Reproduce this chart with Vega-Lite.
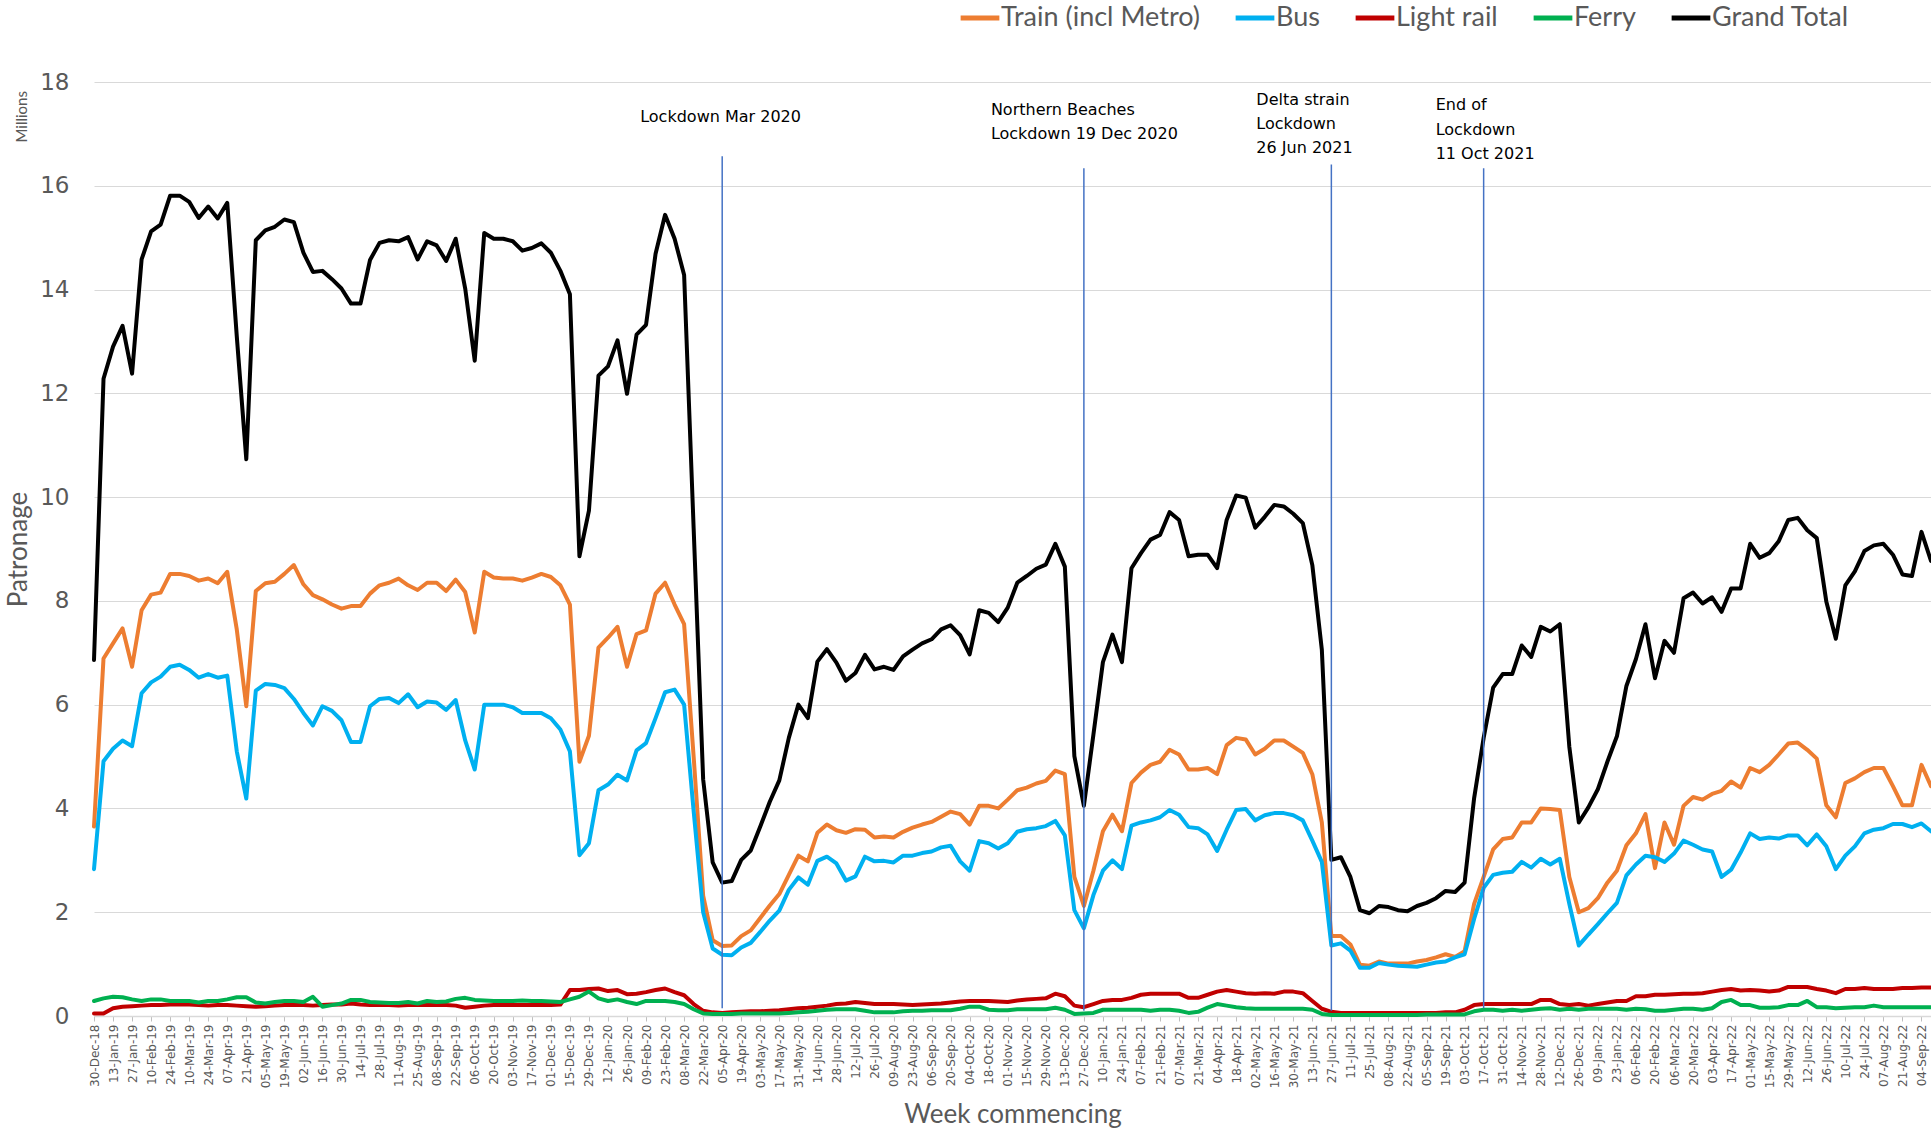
{
"$schema": "https://vega.github.io/schema/vega-lite/v6.json",
"width": 1837, "height": 934,
"autosize": {"type": "none"},
"padding": {"left": 94, "top": 82, "right": 0, "bottom": 115},
"background": "white",
"config": {"view": {"stroke": null}, "font": "Lato"},
"datasets": {"weekly": [
{"Week":"30-Dec-18","Train (incl Metro)":3.65,"Bus":2.83,"Light rail":0.05,"Ferry":0.29,"Grand Total":6.86},
{"Week":"06-Jan-19","Train (incl Metro)":6.89,"Bus":4.91,"Light rail":0.05,"Ferry":0.34,"Grand Total":12.28},
{"Week":"13-Jan-19","Train (incl Metro)":7.18,"Bus":5.15,"Light rail":0.15,"Ferry":0.37,"Grand Total":12.9},
{"Week":"20-Jan-19","Train (incl Metro)":7.47,"Bus":5.31,"Light rail":0.18,"Ferry":0.36,"Grand Total":13.3},
{"Week":"27-Jan-19","Train (incl Metro)":6.73,"Bus":5.2,"Light rail":0.19,"Ferry":0.32,"Grand Total":12.38},
{"Week":"03-Feb-19","Train (incl Metro)":7.82,"Bus":6.22,"Light rail":0.2,"Ferry":0.29,"Grand Total":14.58},
{"Week":"10-Feb-19","Train (incl Metro)":8.12,"Bus":6.43,"Light rail":0.21,"Ferry":0.32,"Grand Total":15.12},
{"Week":"17-Feb-19","Train (incl Metro)":8.16,"Bus":6.54,"Light rail":0.21,"Ferry":0.32,"Grand Total":15.25},
{"Week":"24-Feb-19","Train (incl Metro)":8.52,"Bus":6.73,"Light rail":0.22,"Ferry":0.29,"Grand Total":15.81},
{"Week":"03-Mar-19","Train (incl Metro)":8.52,"Bus":6.77,"Light rail":0.22,"Ferry":0.29,"Grand Total":15.81},
{"Week":"10-Mar-19","Train (incl Metro)":8.48,"Bus":6.67,"Light rail":0.22,"Ferry":0.29,"Grand Total":15.69},
{"Week":"17-Mar-19","Train (incl Metro)":8.39,"Bus":6.52,"Light rail":0.21,"Ferry":0.26,"Grand Total":15.38},
{"Week":"24-Mar-19","Train (incl Metro)":8.43,"Bus":6.59,"Light rail":0.2,"Ferry":0.29,"Grand Total":15.6},
{"Week":"31-Mar-19","Train (incl Metro)":8.34,"Bus":6.52,"Light rail":0.21,"Ferry":0.29,"Grand Total":15.37},
{"Week":"07-Apr-19","Train (incl Metro)":8.56,"Bus":6.56,"Light rail":0.21,"Ferry":0.32,"Grand Total":15.67},
{"Week":"14-Apr-19","Train (incl Metro)":7.45,"Bus":5.1,"Light rail":0.2,"Ferry":0.36,"Grand Total":13.1},
{"Week":"21-Apr-19","Train (incl Metro)":5.97,"Bus":4.19,"Light rail":0.19,"Ferry":0.36,"Grand Total":10.73},
{"Week":"28-Apr-19","Train (incl Metro)":8.19,"Bus":6.27,"Light rail":0.18,"Ferry":0.26,"Grand Total":14.95},
{"Week":"05-May-19","Train (incl Metro)":8.34,"Bus":6.4,"Light rail":0.19,"Ferry":0.24,"Grand Total":15.14},
{"Week":"12-May-19","Train (incl Metro)":8.37,"Bus":6.38,"Light rail":0.2,"Ferry":0.27,"Grand Total":15.21},
{"Week":"19-May-19","Train (incl Metro)":8.52,"Bus":6.32,"Light rail":0.21,"Ferry":0.29,"Grand Total":15.35},
{"Week":"26-May-19","Train (incl Metro)":8.69,"Bus":6.11,"Light rail":0.21,"Ferry":0.29,"Grand Total":15.3},
{"Week":"02-Jun-19","Train (incl Metro)":8.32,"Bus":5.84,"Light rail":0.21,"Ferry":0.27,"Grand Total":14.71},
{"Week":"09-Jun-19","Train (incl Metro)":8.11,"Bus":5.6,"Light rail":0.2,"Ferry":0.37,"Grand Total":14.34},
{"Week":"16-Jun-19","Train (incl Metro)":8.03,"Bus":5.97,"Light rail":0.21,"Ferry":0.18,"Grand Total":14.36},
{"Week":"23-Jun-19","Train (incl Metro)":7.93,"Bus":5.88,"Light rail":0.22,"Ferry":0.21,"Grand Total":14.2},
{"Week":"30-Jun-19","Train (incl Metro)":7.85,"Bus":5.7,"Light rail":0.22,"Ferry":0.24,"Grand Total":14.02},
{"Week":"07-Jul-19","Train (incl Metro)":7.9,"Bus":5.28,"Light rail":0.24,"Ferry":0.31,"Grand Total":13.73},
{"Week":"14-Jul-19","Train (incl Metro)":7.9,"Bus":5.28,"Light rail":0.22,"Ferry":0.31,"Grand Total":13.73},
{"Week":"21-Jul-19","Train (incl Metro)":8.14,"Bus":5.97,"Light rail":0.21,"Ferry":0.27,"Grand Total":14.57},
{"Week":"28-Jul-19","Train (incl Metro)":8.3,"Bus":6.11,"Light rail":0.21,"Ferry":0.26,"Grand Total":14.9},
{"Week":"04-Aug-19","Train (incl Metro)":8.35,"Bus":6.13,"Light rail":0.21,"Ferry":0.25,"Grand Total":14.95},
{"Week":"11-Aug-19","Train (incl Metro)":8.43,"Bus":6.03,"Light rail":0.2,"Ferry":0.25,"Grand Total":14.93},
{"Week":"18-Aug-19","Train (incl Metro)":8.3,"Bus":6.2,"Light rail":0.21,"Ferry":0.27,"Grand Total":15.01},
{"Week":"25-Aug-19","Train (incl Metro)":8.21,"Bus":5.95,"Light rail":0.21,"Ferry":0.24,"Grand Total":14.58},
{"Week":"01-Sep-19","Train (incl Metro)":8.35,"Bus":6.06,"Light rail":0.21,"Ferry":0.29,"Grand Total":14.93},
{"Week":"08-Sep-19","Train (incl Metro)":8.35,"Bus":6.04,"Light rail":0.21,"Ferry":0.27,"Grand Total":14.85},
{"Week":"15-Sep-19","Train (incl Metro)":8.19,"Bus":5.9,"Light rail":0.21,"Ferry":0.28,"Grand Total":14.55},
{"Week":"22-Sep-19","Train (incl Metro)":8.41,"Bus":6.09,"Light rail":0.2,"Ferry":0.33,"Grand Total":14.98},
{"Week":"29-Sep-19","Train (incl Metro)":8.17,"Bus":5.31,"Light rail":0.16,"Ferry":0.35,"Grand Total":14.02},
{"Week":"06-Oct-19","Train (incl Metro)":7.39,"Bus":4.75,"Light rail":0.18,"Ferry":0.31,"Grand Total":12.63},
{"Week":"13-Oct-19","Train (incl Metro)":8.56,"Bus":6.0,"Light rail":0.2,"Ferry":0.3,"Grand Total":15.09},
{"Week":"20-Oct-19","Train (incl Metro)":8.45,"Bus":6.0,"Light rail":0.21,"Ferry":0.29,"Grand Total":14.98},
{"Week":"27-Oct-19","Train (incl Metro)":8.43,"Bus":6.0,"Light rail":0.21,"Ferry":0.29,"Grand Total":14.98},
{"Week":"03-Nov-19","Train (incl Metro)":8.43,"Bus":5.95,"Light rail":0.21,"Ferry":0.29,"Grand Total":14.93},
{"Week":"10-Nov-19","Train (incl Metro)":8.39,"Bus":5.84,"Light rail":0.21,"Ferry":0.3,"Grand Total":14.75},
{"Week":"17-Nov-19","Train (incl Metro)":8.45,"Bus":5.84,"Light rail":0.21,"Ferry":0.29,"Grand Total":14.8},
{"Week":"24-Nov-19","Train (incl Metro)":8.52,"Bus":5.84,"Light rail":0.21,"Ferry":0.29,"Grand Total":14.89},
{"Week":"01-Dec-19","Train (incl Metro)":8.46,"Bus":5.74,"Light rail":0.21,"Ferry":0.28,"Grand Total":14.71},
{"Week":"08-Dec-19","Train (incl Metro)":8.3,"Bus":5.52,"Light rail":0.22,"Ferry":0.27,"Grand Total":14.36},
{"Week":"15-Dec-19","Train (incl Metro)":7.93,"Bus":5.1,"Light rail":0.5,"Ferry":0.32,"Grand Total":13.91},
{"Week":"22-Dec-19","Train (incl Metro)":4.9,"Bus":3.1,"Light rail":0.5,"Ferry":0.37,"Grand Total":8.86},
{"Week":"29-Dec-19","Train (incl Metro)":5.4,"Bus":3.33,"Light rail":0.52,"Ferry":0.47,"Grand Total":9.74},
{"Week":"05-Jan-20","Train (incl Metro)":7.1,"Bus":4.35,"Light rail":0.53,"Ferry":0.34,"Grand Total":12.34},
{"Week":"12-Jan-20","Train (incl Metro)":7.29,"Bus":4.46,"Light rail":0.48,"Ferry":0.29,"Grand Total":12.52},
{"Week":"19-Jan-20","Train (incl Metro)":7.5,"Bus":4.65,"Light rail":0.5,"Ferry":0.32,"Grand Total":13.02},
{"Week":"26-Jan-20","Train (incl Metro)":6.73,"Bus":4.54,"Light rail":0.42,"Ferry":0.27,"Grand Total":11.99},
{"Week":"02-Feb-20","Train (incl Metro)":7.36,"Bus":5.12,"Light rail":0.43,"Ferry":0.23,"Grand Total":13.13},
{"Week":"09-Feb-20","Train (incl Metro)":7.43,"Bus":5.26,"Light rail":0.46,"Ferry":0.29,"Grand Total":13.32},
{"Week":"16-Feb-20","Train (incl Metro)":8.14,"Bus":5.74,"Light rail":0.5,"Ferry":0.29,"Grand Total":14.69},
{"Week":"23-Feb-20","Train (incl Metro)":8.35,"Bus":6.24,"Light rail":0.53,"Ferry":0.29,"Grand Total":15.44},
{"Week":"01-Mar-20","Train (incl Metro)":7.93,"Bus":6.29,"Light rail":0.46,"Ferry":0.27,"Grand Total":14.98},
{"Week":"08-Mar-20","Train (incl Metro)":7.55,"Bus":6.0,"Light rail":0.4,"Ferry":0.23,"Grand Total":14.28},
{"Week":"15-Mar-20","Train (incl Metro)":5.0,"Bus":3.95,"Light rail":0.23,"Ferry":0.13,"Grand Total":9.4},
{"Week":"22-Mar-20","Train (incl Metro)":2.32,"Bus":2.0,"Light rail":0.1,"Ferry":0.05,"Grand Total":4.56},
{"Week":"29-Mar-20","Train (incl Metro)":1.46,"Bus":1.3,"Light rail":0.07,"Ferry":0.04,"Grand Total":2.96},
{"Week":"05-Apr-20","Train (incl Metro)":1.35,"Bus":1.18,"Light rail":0.06,"Ferry":0.04,"Grand Total":2.57},
{"Week":"12-Apr-20","Train (incl Metro)":1.36,"Bus":1.17,"Light rail":0.07,"Ferry":0.04,"Grand Total":2.6},
{"Week":"19-Apr-20","Train (incl Metro)":1.54,"Bus":1.32,"Light rail":0.08,"Ferry":0.05,"Grand Total":3.01},
{"Week":"26-Apr-20","Train (incl Metro)":1.65,"Bus":1.41,"Light rail":0.09,"Ferry":0.05,"Grand Total":3.19},
{"Week":"03-May-20","Train (incl Metro)":1.89,"Bus":1.62,"Light rail":0.09,"Ferry":0.05,"Grand Total":3.65},
{"Week":"10-May-20","Train (incl Metro)":2.13,"Bus":1.84,"Light rail":0.1,"Ferry":0.05,"Grand Total":4.13},
{"Week":"17-May-20","Train (incl Metro)":2.35,"Bus":2.03,"Light rail":0.11,"Ferry":0.05,"Grand Total":4.54},
{"Week":"24-May-20","Train (incl Metro)":2.72,"Bus":2.43,"Light rail":0.13,"Ferry":0.06,"Grand Total":5.36},
{"Week":"31-May-20","Train (incl Metro)":3.09,"Bus":2.67,"Light rail":0.15,"Ferry":0.07,"Grand Total":6.0},
{"Week":"07-Jun-20","Train (incl Metro)":2.98,"Bus":2.53,"Light rail":0.16,"Ferry":0.08,"Grand Total":5.74},
{"Week":"14-Jun-20","Train (incl Metro)":3.53,"Bus":2.99,"Light rail":0.18,"Ferry":0.1,"Grand Total":6.83},
{"Week":"21-Jun-20","Train (incl Metro)":3.69,"Bus":3.07,"Light rail":0.2,"Ferry":0.12,"Grand Total":7.07},
{"Week":"28-Jun-20","Train (incl Metro)":3.58,"Bus":2.94,"Light rail":0.23,"Ferry":0.13,"Grand Total":6.81},
{"Week":"05-Jul-20","Train (incl Metro)":3.53,"Bus":2.61,"Light rail":0.24,"Ferry":0.13,"Grand Total":6.46},
{"Week":"12-Jul-20","Train (incl Metro)":3.6,"Bus":2.69,"Light rail":0.27,"Ferry":0.13,"Grand Total":6.61},
{"Week":"19-Jul-20","Train (incl Metro)":3.59,"Bus":3.07,"Light rail":0.25,"Ferry":0.1,"Grand Total":6.96},
{"Week":"26-Jul-20","Train (incl Metro)":3.44,"Bus":2.98,"Light rail":0.23,"Ferry":0.07,"Grand Total":6.68},
{"Week":"02-Aug-20","Train (incl Metro)":3.46,"Bus":2.99,"Light rail":0.23,"Ferry":0.07,"Grand Total":6.73},
{"Week":"09-Aug-20","Train (incl Metro)":3.44,"Bus":2.96,"Light rail":0.23,"Ferry":0.07,"Grand Total":6.67},
{"Week":"16-Aug-20","Train (incl Metro)":3.55,"Bus":3.09,"Light rail":0.22,"Ferry":0.09,"Grand Total":6.93},
{"Week":"23-Aug-20","Train (incl Metro)":3.63,"Bus":3.09,"Light rail":0.21,"Ferry":0.1,"Grand Total":7.06},
{"Week":"30-Aug-20","Train (incl Metro)":3.69,"Bus":3.14,"Light rail":0.22,"Ferry":0.1,"Grand Total":7.18},
{"Week":"06-Sep-20","Train (incl Metro)":3.74,"Bus":3.17,"Light rail":0.23,"Ferry":0.11,"Grand Total":7.26},
{"Week":"13-Sep-20","Train (incl Metro)":3.84,"Bus":3.25,"Light rail":0.24,"Ferry":0.11,"Grand Total":7.45},
{"Week":"20-Sep-20","Train (incl Metro)":3.94,"Bus":3.28,"Light rail":0.26,"Ferry":0.11,"Grand Total":7.53},
{"Week":"27-Sep-20","Train (incl Metro)":3.89,"Bus":2.98,"Light rail":0.28,"Ferry":0.14,"Grand Total":7.34},
{"Week":"04-Oct-20","Train (incl Metro)":3.69,"Bus":2.8,"Light rail":0.29,"Ferry":0.18,"Grand Total":6.97},
{"Week":"11-Oct-20","Train (incl Metro)":4.05,"Bus":3.37,"Light rail":0.29,"Ferry":0.18,"Grand Total":7.82},
{"Week":"18-Oct-20","Train (incl Metro)":4.05,"Bus":3.33,"Light rail":0.29,"Ferry":0.12,"Grand Total":7.77},
{"Week":"25-Oct-20","Train (incl Metro)":4.0,"Bus":3.23,"Light rail":0.28,"Ferry":0.11,"Grand Total":7.59},
{"Week":"01-Nov-20","Train (incl Metro)":4.17,"Bus":3.33,"Light rail":0.27,"Ferry":0.11,"Grand Total":7.87},
{"Week":"08-Nov-20","Train (incl Metro)":4.35,"Bus":3.55,"Light rail":0.3,"Ferry":0.13,"Grand Total":8.35},
{"Week":"15-Nov-20","Train (incl Metro)":4.4,"Bus":3.6,"Light rail":0.32,"Ferry":0.13,"Grand Total":8.48},
{"Week":"22-Nov-20","Train (incl Metro)":4.48,"Bus":3.62,"Light rail":0.33,"Ferry":0.13,"Grand Total":8.62},
{"Week":"29-Nov-20","Train (incl Metro)":4.53,"Bus":3.66,"Light rail":0.34,"Ferry":0.13,"Grand Total":8.7},
{"Week":"06-Dec-20","Train (incl Metro)":4.73,"Bus":3.76,"Light rail":0.43,"Ferry":0.16,"Grand Total":9.1},
{"Week":"13-Dec-20","Train (incl Metro)":4.66,"Bus":3.48,"Light rail":0.38,"Ferry":0.12,"Grand Total":8.66},
{"Week":"20-Dec-20","Train (incl Metro)":2.68,"Bus":2.04,"Light rail":0.2,"Ferry":0.04,"Grand Total":5.01},
{"Week":"27-Dec-20","Train (incl Metro)":2.12,"Bus":1.69,"Light rail":0.17,"Ferry":0.05,"Grand Total":4.05},
{"Week":"03-Jan-21","Train (incl Metro)":2.8,"Bus":2.33,"Light rail":0.23,"Ferry":0.06,"Grand Total":5.42},
{"Week":"10-Jan-21","Train (incl Metro)":3.56,"Bus":2.8,"Light rail":0.29,"Ferry":0.12,"Grand Total":6.82},
{"Week":"17-Jan-21","Train (incl Metro)":3.88,"Bus":3.0,"Light rail":0.31,"Ferry":0.12,"Grand Total":7.35},
{"Week":"24-Jan-21","Train (incl Metro)":3.56,"Bus":2.83,"Light rail":0.31,"Ferry":0.12,"Grand Total":6.82},
{"Week":"31-Jan-21","Train (incl Metro)":4.49,"Bus":3.67,"Light rail":0.35,"Ferry":0.12,"Grand Total":8.63},
{"Week":"07-Feb-21","Train (incl Metro)":4.69,"Bus":3.73,"Light rail":0.41,"Ferry":0.12,"Grand Total":8.92},
{"Week":"14-Feb-21","Train (incl Metro)":4.84,"Bus":3.77,"Light rail":0.43,"Ferry":0.1,"Grand Total":9.18},
{"Week":"21-Feb-21","Train (incl Metro)":4.9,"Bus":3.83,"Light rail":0.43,"Ferry":0.12,"Grand Total":9.27},
{"Week":"28-Feb-21","Train (incl Metro)":5.13,"Bus":3.97,"Light rail":0.43,"Ferry":0.12,"Grand Total":9.71},
{"Week":"07-Mar-21","Train (incl Metro)":5.04,"Bus":3.88,"Light rail":0.43,"Ferry":0.1,"Grand Total":9.56},
{"Week":"14-Mar-21","Train (incl Metro)":4.75,"Bus":3.64,"Light rail":0.35,"Ferry":0.06,"Grand Total":8.86},
{"Week":"21-Mar-21","Train (incl Metro)":4.75,"Bus":3.62,"Light rail":0.35,"Ferry":0.08,"Grand Total":8.89},
{"Week":"28-Mar-21","Train (incl Metro)":4.78,"Bus":3.5,"Light rail":0.41,"Ferry":0.16,"Grand Total":8.89},
{"Week":"04-Apr-21","Train (incl Metro)":4.66,"Bus":3.18,"Light rail":0.47,"Ferry":0.23,"Grand Total":8.63},
{"Week":"11-Apr-21","Train (incl Metro)":5.22,"Bus":3.59,"Light rail":0.5,"Ferry":0.2,"Grand Total":9.56},
{"Week":"18-Apr-21","Train (incl Metro)":5.36,"Bus":3.97,"Light rail":0.47,"Ferry":0.17,"Grand Total":10.03},
{"Week":"25-Apr-21","Train (incl Metro)":5.33,"Bus":3.99,"Light rail":0.44,"Ferry":0.15,"Grand Total":9.99},
{"Week":"02-May-21","Train (incl Metro)":5.04,"Bus":3.77,"Light rail":0.43,"Ferry":0.14,"Grand Total":9.41},
{"Week":"09-May-21","Train (incl Metro)":5.15,"Bus":3.87,"Light rail":0.44,"Ferry":0.14,"Grand Total":9.62},
{"Week":"16-May-21","Train (incl Metro)":5.31,"Bus":3.91,"Light rail":0.43,"Ferry":0.14,"Grand Total":9.85},
{"Week":"23-May-21","Train (incl Metro)":5.31,"Bus":3.91,"Light rail":0.47,"Ferry":0.14,"Grand Total":9.82},
{"Week":"30-May-21","Train (incl Metro)":5.19,"Bus":3.87,"Light rail":0.47,"Ferry":0.14,"Grand Total":9.68},
{"Week":"06-Jun-21","Train (incl Metro)":5.07,"Bus":3.77,"Light rail":0.44,"Ferry":0.14,"Grand Total":9.5},
{"Week":"13-Jun-21","Train (incl Metro)":4.66,"Bus":3.38,"Light rail":0.29,"Ferry":0.12,"Grand Total":8.69},
{"Week":"20-Jun-21","Train (incl Metro)":3.73,"Bus":2.97,"Light rail":0.14,"Ferry":0.04,"Grand Total":7.06},
{"Week":"27-Jun-21","Train (incl Metro)":1.54,"Bus":1.36,"Light rail":0.08,"Ferry":0.02,"Grand Total":3.01},
{"Week":"04-Jul-21","Train (incl Metro)":1.54,"Bus":1.4,"Light rail":0.06,"Ferry":0.02,"Grand Total":3.06},
{"Week":"11-Jul-21","Train (incl Metro)":1.38,"Bus":1.26,"Light rail":0.06,"Ferry":0.02,"Grand Total":2.68},
{"Week":"18-Jul-21","Train (incl Metro)":0.99,"Bus":0.93,"Light rail":0.06,"Ferry":0.02,"Grand Total":2.04},
{"Week":"25-Jul-21","Train (incl Metro)":0.97,"Bus":0.93,"Light rail":0.06,"Ferry":0.02,"Grand Total":1.98},
{"Week":"01-Aug-21","Train (incl Metro)":1.05,"Bus":1.02,"Light rail":0.06,"Ferry":0.02,"Grand Total":2.12},
{"Week":"08-Aug-21","Train (incl Metro)":1.01,"Bus":0.99,"Light rail":0.06,"Ferry":0.02,"Grand Total":2.1},
{"Week":"15-Aug-21","Train (incl Metro)":1.01,"Bus":0.97,"Light rail":0.06,"Ferry":0.02,"Grand Total":2.04},
{"Week":"22-Aug-21","Train (incl Metro)":1.01,"Bus":0.96,"Light rail":0.06,"Ferry":0.02,"Grand Total":2.02},
{"Week":"29-Aug-21","Train (incl Metro)":1.05,"Bus":0.95,"Light rail":0.06,"Ferry":0.02,"Grand Total":2.12},
{"Week":"05-Sep-21","Train (incl Metro)":1.08,"Bus":0.99,"Light rail":0.06,"Ferry":0.03,"Grand Total":2.18},
{"Week":"12-Sep-21","Train (incl Metro)":1.13,"Bus":1.03,"Light rail":0.06,"Ferry":0.03,"Grand Total":2.27},
{"Week":"19-Sep-21","Train (incl Metro)":1.19,"Bus":1.05,"Light rail":0.07,"Ferry":0.03,"Grand Total":2.41},
{"Week":"26-Sep-21","Train (incl Metro)":1.14,"Bus":1.13,"Light rail":0.07,"Ferry":0.03,"Grand Total":2.39},
{"Week":"03-Oct-21","Train (incl Metro)":1.25,"Bus":1.19,"Light rail":0.12,"Ferry":0.03,"Grand Total":2.57},
{"Week":"10-Oct-21","Train (incl Metro)":2.16,"Bus":1.87,"Light rail":0.21,"Ferry":0.09,"Grand Total":4.2},
{"Week":"17-Oct-21","Train (incl Metro)":2.68,"Bus":2.47,"Light rail":0.23,"Ferry":0.12,"Grand Total":5.36},
{"Week":"24-Oct-21","Train (incl Metro)":3.21,"Bus":2.72,"Light rail":0.23,"Ferry":0.12,"Grand Total":6.33},
{"Week":"31-Oct-21","Train (incl Metro)":3.41,"Bus":2.76,"Light rail":0.23,"Ferry":0.1,"Grand Total":6.59},
{"Week":"07-Nov-21","Train (incl Metro)":3.44,"Bus":2.78,"Light rail":0.23,"Ferry":0.12,"Grand Total":6.59},
{"Week":"14-Nov-21","Train (incl Metro)":3.73,"Bus":2.97,"Light rail":0.23,"Ferry":0.1,"Grand Total":7.14},
{"Week":"21-Nov-21","Train (incl Metro)":3.73,"Bus":2.86,"Light rail":0.23,"Ferry":0.12,"Grand Total":6.92},
{"Week":"28-Nov-21","Train (incl Metro)":4.0,"Bus":3.03,"Light rail":0.31,"Ferry":0.14,"Grand Total":7.5},
{"Week":"05-Dec-21","Train (incl Metro)":3.99,"Bus":2.92,"Light rail":0.31,"Ferry":0.15,"Grand Total":7.41},
{"Week":"12-Dec-21","Train (incl Metro)":3.97,"Bus":3.03,"Light rail":0.23,"Ferry":0.12,"Grand Total":7.55},
{"Week":"19-Dec-21","Train (incl Metro)":2.68,"Bus":2.16,"Light rail":0.21,"Ferry":0.14,"Grand Total":5.19},
{"Week":"26-Dec-21","Train (incl Metro)":2.0,"Bus":1.36,"Light rail":0.23,"Ferry":0.12,"Grand Total":3.73},
{"Week":"02-Jan-22","Train (incl Metro)":2.08,"Bus":1.57,"Light rail":0.2,"Ferry":0.14,"Grand Total":4.02},
{"Week":"09-Jan-22","Train (incl Metro)":2.27,"Bus":1.77,"Light rail":0.23,"Ferry":0.14,"Grand Total":4.37},
{"Week":"16-Jan-22","Train (incl Metro)":2.57,"Bus":1.98,"Light rail":0.26,"Ferry":0.14,"Grand Total":4.9},
{"Week":"23-Jan-22","Train (incl Metro)":2.8,"Bus":2.18,"Light rail":0.29,"Ferry":0.14,"Grand Total":5.39},
{"Week":"30-Jan-22","Train (incl Metro)":3.29,"Bus":2.71,"Light rail":0.29,"Ferry":0.12,"Grand Total":6.36},
{"Week":"06-Feb-22","Train (incl Metro)":3.52,"Bus":2.92,"Light rail":0.38,"Ferry":0.14,"Grand Total":6.88},
{"Week":"13-Feb-22","Train (incl Metro)":3.89,"Bus":3.09,"Light rail":0.38,"Ferry":0.13,"Grand Total":7.55},
{"Week":"20-Feb-22","Train (incl Metro)":2.85,"Bus":3.06,"Light rail":0.41,"Ferry":0.1,"Grand Total":6.51},
{"Week":"27-Feb-22","Train (incl Metro)":3.73,"Bus":2.97,"Light rail":0.41,"Ferry":0.1,"Grand Total":7.23},
{"Week":"06-Mar-22","Train (incl Metro)":3.3,"Bus":3.13,"Light rail":0.42,"Ferry":0.12,"Grand Total":7.0},
{"Week":"13-Mar-22","Train (incl Metro)":4.05,"Bus":3.38,"Light rail":0.43,"Ferry":0.14,"Grand Total":8.05},
{"Week":"20-Mar-22","Train (incl Metro)":4.22,"Bus":3.3,"Light rail":0.43,"Ferry":0.14,"Grand Total":8.16},
{"Week":"27-Mar-22","Train (incl Metro)":4.17,"Bus":3.21,"Light rail":0.44,"Ferry":0.12,"Grand Total":7.95},
{"Week":"03-Apr-22","Train (incl Metro)":4.28,"Bus":3.17,"Light rail":0.47,"Ferry":0.15,"Grand Total":8.07},
{"Week":"10-Apr-22","Train (incl Metro)":4.34,"Bus":2.68,"Light rail":0.5,"Ferry":0.27,"Grand Total":7.79},
{"Week":"17-Apr-22","Train (incl Metro)":4.52,"Bus":2.82,"Light rail":0.52,"Ferry":0.31,"Grand Total":8.24},
{"Week":"24-Apr-22","Train (incl Metro)":4.4,"Bus":3.15,"Light rail":0.49,"Ferry":0.21,"Grand Total":8.24},
{"Week":"01-May-22","Train (incl Metro)":4.78,"Bus":3.52,"Light rail":0.5,"Ferry":0.21,"Grand Total":9.1},
{"Week":"08-May-22","Train (incl Metro)":4.7,"Bus":3.41,"Light rail":0.49,"Ferry":0.16,"Grand Total":8.83},
{"Week":"15-May-22","Train (incl Metro)":4.84,"Bus":3.44,"Light rail":0.47,"Ferry":0.16,"Grand Total":8.92},
{"Week":"22-May-22","Train (incl Metro)":5.04,"Bus":3.42,"Light rail":0.49,"Ferry":0.17,"Grand Total":9.15},
{"Week":"29-May-22","Train (incl Metro)":5.25,"Bus":3.48,"Light rail":0.56,"Ferry":0.21,"Grand Total":9.56},
{"Week":"05-Jun-22","Train (incl Metro)":5.27,"Bus":3.48,"Light rail":0.56,"Ferry":0.21,"Grand Total":9.6},
{"Week":"12-Jun-22","Train (incl Metro)":5.13,"Bus":3.29,"Light rail":0.56,"Ferry":0.29,"Grand Total":9.36},
{"Week":"19-Jun-22","Train (incl Metro)":4.96,"Bus":3.5,"Light rail":0.52,"Ferry":0.17,"Grand Total":9.21},
{"Week":"26-Jun-22","Train (incl Metro)":4.06,"Bus":3.27,"Light rail":0.49,"Ferry":0.17,"Grand Total":7.99},
{"Week":"03-Jul-22","Train (incl Metro)":3.83,"Bus":2.83,"Light rail":0.44,"Ferry":0.15,"Grand Total":7.27},
{"Week":"10-Jul-22","Train (incl Metro)":4.49,"Bus":3.09,"Light rail":0.52,"Ferry":0.16,"Grand Total":8.3},
{"Week":"17-Jul-22","Train (incl Metro)":4.58,"Bus":3.27,"Light rail":0.52,"Ferry":0.17,"Grand Total":8.57},
{"Week":"24-Jul-22","Train (incl Metro)":4.7,"Bus":3.52,"Light rail":0.54,"Ferry":0.17,"Grand Total":8.96},
{"Week":"31-Jul-22","Train (incl Metro)":4.78,"Bus":3.59,"Light rail":0.52,"Ferry":0.2,"Grand Total":9.07},
{"Week":"07-Aug-22","Train (incl Metro)":4.78,"Bus":3.62,"Light rail":0.52,"Ferry":0.17,"Grand Total":9.1},
{"Week":"14-Aug-22","Train (incl Metro)":4.43,"Bus":3.7,"Light rail":0.52,"Ferry":0.17,"Grand Total":8.89},
{"Week":"21-Aug-22","Train (incl Metro)":4.06,"Bus":3.7,"Light rail":0.54,"Ferry":0.17,"Grand Total":8.51},
{"Week":"28-Aug-22","Train (incl Metro)":4.06,"Bus":3.64,"Light rail":0.54,"Ferry":0.17,"Grand Total":8.48},
{"Week":"04-Sep-22","Train (incl Metro)":4.84,"Bus":3.71,"Light rail":0.55,"Ferry":0.17,"Grand Total":9.33},
{"Week":"11-Sep-22","Train (incl Metro)":4.43,"Bus":3.56,"Light rail":0.55,"Ferry":0.17,"Grand Total":8.77}
]},
"layer": [
{
"data": {"name": "weekly"},
"transform": [{"fold": ["Train (incl Metro)", "Bus", "Light rail", "Ferry", "Grand Total"], "as": ["Mode", "Value"]}],
"mark": {"type": "line", "strokeWidth": 4, "strokeJoin": "round", "strokeCap": "round"},
"encoding": {
"x": {"field": "Week", "type": "ordinal", "sort": null, "scale": {"type": "point", "padding": 0},
"axis": {"title": "Week commencing", "values": ["30-Dec-18","13-Jan-19","27-Jan-19","10-Feb-19","24-Feb-19","10-Mar-19","24-Mar-19","07-Apr-19","21-Apr-19","05-May-19","19-May-19","02-Jun-19","16-Jun-19","30-Jun-19","14-Jul-19","28-Jul-19","11-Aug-19","25-Aug-19","08-Sep-19","22-Sep-19","06-Oct-19","20-Oct-19","03-Nov-19","17-Nov-19","01-Dec-19","15-Dec-19","29-Dec-19","12-Jan-20","26-Jan-20","09-Feb-20","23-Feb-20","08-Mar-20","22-Mar-20","05-Apr-20","19-Apr-20","03-May-20","17-May-20","31-May-20","14-Jun-20","28-Jun-20","12-Jul-20","26-Jul-20","09-Aug-20","23-Aug-20","06-Sep-20","20-Sep-20","04-Oct-20","18-Oct-20","01-Nov-20","15-Nov-20","29-Nov-20","13-Dec-20","27-Dec-20","10-Jan-21","24-Jan-21","07-Feb-21","21-Feb-21","07-Mar-21","21-Mar-21","04-Apr-21","18-Apr-21","02-May-21","16-May-21","30-May-21","13-Jun-21","27-Jun-21","11-Jul-21","25-Jul-21","08-Aug-21","22-Aug-21","05-Sep-21","19-Sep-21","03-Oct-21","17-Oct-21","31-Oct-21","14-Nov-21","28-Nov-21","12-Dec-21","26-Dec-21","09-Jan-22","23-Jan-22","06-Feb-22","20-Feb-22","06-Mar-22","20-Mar-22","03-Apr-22","17-Apr-22","01-May-22","15-May-22","29-May-22","12-Jun-22","26-Jun-22","10-Jul-22","24-Jul-22","07-Aug-22","21-Aug-22","04-Sep-22"],
"labelAngle": -90, "labelFont": "DejaVu Sans", "labelFontSize": 12, "labelColor": "#595959", "labelPadding": 3, "labelOverlap": false,
"tickSize": 5, "tickColor": "#BFBFBF", "domainColor": "#D9D9D9", "domainWidth": 1.5, "grid": false,
"titleFont": "Lato", "titleFontSize": 26, "titleFontWeight": "normal", "titleColor": "#595959", "titlePadding": 14}},
"y": {"field": "Value", "type": "quantitative", "scale": {"domain": [0, 18]},
"axis": {"title": "Patronage", "values": [0,2,4,6,8,10,12,14,16,18], "grid": true, "gridColor": "#D9D9D9", "gridWidth": 1, "domain": false, "ticks": false,
"labelFont": "DejaVu Sans", "labelFontSize": 23, "labelColor": "#595959", "labelPadding": 25,
"titleFont": "Lato", "titleFontSize": 26, "titleFontWeight": "normal", "titleColor": "#595959", "titlePadding": 8}},
"color": {"field": "Mode", "type": "nominal",
"scale": {"domain": ["Train (incl Metro)", "Bus", "Light rail", "Ferry", "Grand Total"], "range": ["#ED7D31", "#00B0F0", "#C00000", "#00B050", "#000000"]},
"legend": {"orient": "none", "legendX": 864, "legendY": -86, "direction": "horizontal", "title": null, "symbolType": "stroke", "symbolSize": 1500, "symbolStrokeWidth": 5, "labelFont": "Lato", "labelFontSize": 27, "labelColor": "#595959", "labelOffset": -1, "labelLimit": 500, "columnPadding": 25, "padding": 0, "offset": 0}}
}
},
{
"data": {"values": [{"Week": "30-Dec-18", "Unit": "Millions"}]},
"mark": {"type": "text", "angle": 270, "dy": -72, "font": "Lato", "fontSize": 15, "color": "#595959", "align": "center", "baseline": "middle"},
"encoding": {"x": {"field": "Week", "type": "ordinal", "sort": null}, "y": {"datum": 17.33}, "text": {"field": "Unit"}}
},
{
"data": {"values": [{"Week": "05-Apr-20", "Event": "Lockdown Mar 2020"}]},
"layer": [
{"mark": {"type": "rule", "color": "#4472C4", "strokeWidth": 1.5}, "encoding": {"x": {"field": "Week", "type": "ordinal", "sort": null}, "y": {"datum": 16.57}, "y2": {"datum": 0.15}}},
{"mark": {"type": "text", "align": "left", "baseline": "alphabetic", "dx": -82, "font": "DejaVu Sans", "fontSize": 16, "lineHeight": 24, "lineBreak": "\n", "color": "#000000"}, "encoding": {"x": {"field": "Week", "type": "ordinal", "sort": null}, "y": {"datum": 17.22}, "text": {"field": "Event"}}}
]
},
{
"data": {"values": [{"Week": "27-Dec-20", "Event": "Northern Beaches\nLockdown 19 Dec 2020"}]},
"layer": [
{"mark": {"type": "rule", "color": "#4472C4", "strokeWidth": 1.5}, "encoding": {"x": {"field": "Week", "type": "ordinal", "sort": null}, "y": {"datum": 16.34}, "y2": {"datum": 0.1}}},
{"mark": {"type": "text", "align": "left", "baseline": "alphabetic", "dx": -93, "font": "DejaVu Sans", "fontSize": 16, "lineHeight": 23.5, "lineBreak": "\n", "color": "#000000"}, "encoding": {"x": {"field": "Week", "type": "ordinal", "sort": null}, "y": {"datum": 17.36}, "text": {"field": "Event"}}}
]
},
{
"data": {"values": [{"Week": "27-Jun-21", "Event": "Delta strain\nLockdown\n26 Jun 2021"}]},
"layer": [
{"mark": {"type": "rule", "color": "#4472C4", "strokeWidth": 1.5}, "encoding": {"x": {"field": "Week", "type": "ordinal", "sort": null}, "y": {"datum": 16.41}, "y2": {"datum": 0.1}}},
{"mark": {"type": "text", "align": "left", "baseline": "alphabetic", "dx": -75, "font": "DejaVu Sans", "fontSize": 16, "lineHeight": 24, "lineBreak": "\n", "color": "#000000"}, "encoding": {"x": {"field": "Week", "type": "ordinal", "sort": null}, "y": {"datum": 17.55}, "text": {"field": "Event"}}}
]
},
{
"data": {"values": [{"Week": "17-Oct-21", "Event": "End of\nLockdown\n11 Oct 2021"}]},
"layer": [
{"mark": {"type": "rule", "color": "#4472C4", "strokeWidth": 1.5}, "encoding": {"x": {"field": "Week", "type": "ordinal", "sort": null}, "y": {"datum": 16.34}, "y2": {"datum": 0.15}}},
{"mark": {"type": "text", "align": "left", "baseline": "alphabetic", "dx": -48, "font": "DejaVu Sans", "fontSize": 16, "lineHeight": 24.5, "lineBreak": "\n", "color": "#000000"}, "encoding": {"x": {"field": "Week", "type": "ordinal", "sort": null}, "y": {"datum": 17.46}, "text": {"field": "Event"}}}
]
}
]
}
